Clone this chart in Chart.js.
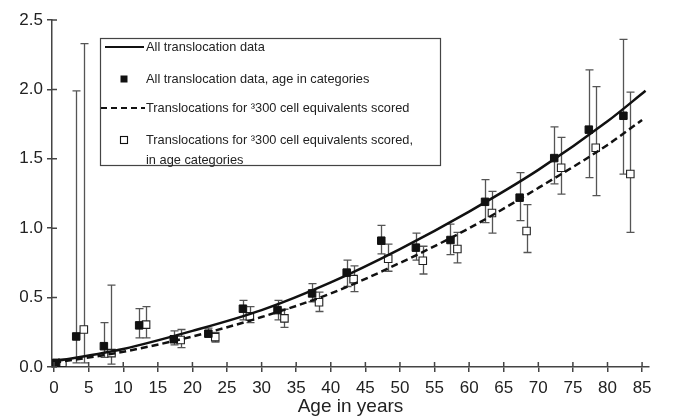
<!DOCTYPE html>
<html>
<head>
<meta charset="utf-8">
<script src="https://cdn.jsdelivr.net/npm/chart.js"></script>
<style>
  html, body { margin: 0; padding: 0; background: #fff; }
  #wrap { width: 673px; height: 418px; }
</style>
</head>
<body>
<div id="wrap"><canvas id="myChart" width="673" height="418"></canvas></div>
<script>
// age categories, all translocation data (filled squares)
const catAges = [0.3, 3.2, 7.2, 12.3, 17.3, 22.3, 27.3, 32.3, 37.3, 42.3, 47.3, 52.3, 57.3, 62.3, 67.3, 72.3, 77.3, 82.3];
const catMean = [0.03, 0.22, 0.15, 0.30, 0.20, 0.24, 0.42, 0.41, 0.53, 0.68, 0.91, 0.86, 0.915, 1.19, 1.22, 1.505, 1.71, 1.81];
const catLow  = [0.02, 0.03, 0.07, 0.21, 0.16, 0.22, 0.34, 0.34, 0.47, 0.58, 0.815, 0.77, 0.81, 1.04, 1.055, 1.32, 1.365, 1.39];
const catHigh = [0.05, 1.99, 0.32, 0.42, 0.26, 0.28, 0.48, 0.48, 0.60, 0.77, 1.02, 0.965, 1.03, 1.35, 1.40, 1.73, 2.14, 2.36];

// >=300 cell equivalents, age categories (open squares)
const sub300Ages = [1.2, 4.3, 8.3, 13.3, 18.3, 23.3, 28.3, 33.3, 38.3, 43.3, 48.3, 53.3, 58.3, 63.3, 68.3, 73.3, 78.3, 83.3];
const sub300Mean = [0.03, 0.27, 0.10, 0.305, 0.195, 0.215, 0.365, 0.35, 0.467, 0.633, 0.78, 0.765, 0.85, 1.11, 0.98, 1.435, 1.58, 1.39];
const sub300Low  = [0.02, 0.03, 0.02, 0.21, 0.14, 0.18, 0.32, 0.286, 0.40, 0.543, 0.69, 0.67, 0.75, 0.965, 0.825, 1.245, 1.235, 0.97];
const sub300High = [0.04, 2.33, 0.59, 0.435, 0.27, 0.25, 0.435, 0.416, 0.54, 0.729, 0.885, 0.87, 0.97, 1.265, 1.17, 1.655, 2.02, 1.98];

// fitted curves
const fitAllAges = [0, 10, 20, 30, 40, 50, 60, 70, 80, 85.5];
const fitAllVals = [0.04, 0.13, 0.26, 0.41, 0.61, 0.85, 1.12, 1.42, 1.77, 1.99];
const fit300Ages = [0, 10, 20, 30, 40, 50, 60, 70, 80, 85];
const fit300Vals = [0.03, 0.11, 0.22, 0.36, 0.53, 0.75, 1.00, 1.29, 1.60, 1.78];

const xTicks = [0, 5, 10, 15, 20, 25, 30, 35, 40, 45, 50, 55, 60, 65, 70, 75, 80, 85];
const yTicks = [0, 0.5, 1.0, 1.5, 2.0, 2.5];

const legendRows = [
  { kind: "line", text: ["All translocation data"] },
  { kind: "filled", text: ["All translocation data, age in categories"] },
  { kind: "dash", text: ["Translocations for \u00b3300 cell equivalents scored"] },
  { kind: "open", text: ["Translocations for \u00b3300 cell equivalents scored,", "in age categories"] }
];

const FONT = '"Liberation Sans", Arial, sans-serif';
const pts = (xs, ys) => xs.map((x, i) => ({ x: x, y: ys[i] }));

const errorBars = {
  id: "errorBars",
  beforeDatasetsDraw(chart) {
    const ctx = chart.ctx, xs = chart.scales.x, ys = chart.scales.y;
    ctx.save();
    ctx.strokeStyle = "#555";
    ctx.lineWidth = 1.3;
    const draw = (ages, lo, hi) => {
      ages.forEach((a, i) => {
        const px = Math.round(xs.getPixelForValue(a)) + 0.5;
        const p1 = ys.getPixelForValue(lo[i]), p2 = ys.getPixelForValue(hi[i]);
        ctx.beginPath();
        ctx.moveTo(px, p1); ctx.lineTo(px, p2);
        ctx.moveTo(px - 4, p1); ctx.lineTo(px + 4, p1);
        ctx.moveTo(px - 4, p2); ctx.lineTo(px + 4, p2);
        ctx.stroke();
      });
    };
    draw(catAges, catLow, catHigh);
    draw(sub300Ages, sub300Low, sub300High);
    ctx.restore();
  },
  afterDraw(chart) {
    const ctx = chart.ctx, xs = chart.scales.x, ys = chart.scales.y, ca = chart.chartArea;
    ctx.save();
    // inner half of the crossing tick marks
    ctx.strokeStyle = "#444";
    ctx.lineWidth = 1.5;
    ctx.beginPath();
    xTicks.forEach(v => {
      const px = xs.getPixelForValue(v);
      ctx.moveTo(px, ca.bottom); ctx.lineTo(px, ca.bottom - 5);
    });
    yTicks.forEach(v => {
      const py = ys.getPixelForValue(v);
      ctx.moveTo(ca.left, py); ctx.lineTo(ca.left + 5, py);
    });
    ctx.stroke();

    // legend box
    ctx.strokeStyle = "#444";
    ctx.lineWidth = 1.2;
    ctx.fillStyle = "#fff";
    ctx.fillRect(100, 38, 341, 128);
    ctx.strokeRect(100.5, 38.5, 340, 127);
    const rowY = [47, 79, 108, 140];
    ctx.font = "12.8px " + FONT;
    ctx.textBaseline = "middle";
    legendRows.forEach((r, i) => {
      const y = rowY[i];
      ctx.strokeStyle = "#111";
      ctx.fillStyle = "#111";
      if (r.kind === "line") {
        ctx.lineWidth = 2;
        ctx.setLineDash([]);
        ctx.beginPath(); ctx.moveTo(105, y); ctx.lineTo(144, y); ctx.stroke();
      } else if (r.kind === "dash") {
        ctx.lineWidth = 2;
        ctx.setLineDash([6, 4]);
        ctx.beginPath(); ctx.moveTo(101, y); ctx.lineTo(145, y); ctx.stroke();
        ctx.setLineDash([]);
      } else if (r.kind === "filled") {
        ctx.fillRect(120.5, y - 3.5, 7, 7);
      } else {
        ctx.lineWidth = 1.1;
        ctx.strokeRect(120.5, y - 3.5, 7, 7);
      }
      ctx.fillStyle = "#222";
      r.text.forEach((t, j) => ctx.fillText(t, 146, y + j * 20));
    });
    ctx.restore();
  }
};

new Chart(document.getElementById("myChart"), {
  type: "scatter",
  data: {
    datasets: [
      {
        label: "All translocation data",
        type: "line",
        data: pts(fitAllAges, fitAllVals),
        borderColor: "#111",
        borderWidth: 2.5,
        pointRadius: 0,
        cubicInterpolationMode: "monotone",
        fill: false
      },
      {
        label: "Translocations for \u00b3300 cell equivalents scored",
        type: "line",
        data: pts(fit300Ages, fit300Vals),
        borderColor: "#111",
        borderWidth: 2.5,
        borderDash: [7, 4],
        pointRadius: 0,
        cubicInterpolationMode: "monotone",
        fill: false
      },
      {
        label: "All translocation data, age in categories",
        data: pts(catAges, catMean),
        pointStyle: "rect",
        pointRadius: 5.3,
        backgroundColor: "#111",
        borderColor: "#111",
        borderWidth: 1
      },
      {
        label: "Translocations for \u00b3300 cell equivalents scored, in age categories",
        data: pts(sub300Ages, sub300Mean),
        pointStyle: "rect",
        pointRadius: 5.3,
        backgroundColor: "#fff",
        borderColor: "#222",
        borderWidth: 1.1
      }
    ]
  },
  options: {
    responsive: false,
    animation: false,
    devicePixelRatio: 1,
    layout: { padding: { top: 20, right: 24, bottom: 0, left: 0 } },
    plugins: { legend: { display: false }, tooltip: { enabled: false } },
    scales: {
      x: {
        type: "linear",
        min: -0.3,
        max: 86,
        afterBuildTicks: s => { s.ticks = xTicks.map(v => ({ value: v })); },
        afterFit: s => { s.height = 51; },
        border: { display: true, color: "#444", width: 1.5 },
        grid: { drawOnChartArea: false, drawTicks: true, tickLength: 5, color: "#444", lineWidth: 1.5 },
        ticks: { color: "#222", font: { family: FONT, size: 17 }, padding: 6, maxRotation: 0, autoSkip: false },
        title: { display: true, text: "Age in years", color: "#222", font: { family: FONT, size: 19 }, padding: { top: 0, bottom: 0 } }
      },
      y: {
        min: 0,
        max: 2.5,
        afterBuildTicks: s => { s.ticks = yTicks.map(v => ({ value: v })); },
        afterFit: s => { s.width = 52; },
        border: { display: true, color: "#444", width: 1.5 },
        grid: { drawOnChartArea: false, drawTicks: true, tickLength: 5, color: "#444", lineWidth: 1.5 },
        ticks: { color: "#222", font: { family: FONT, size: 17 }, padding: 4, callback: v => v.toFixed(1) }
      }
    }
  },
  plugins: [errorBars]
});
</script>
</body>
</html>
